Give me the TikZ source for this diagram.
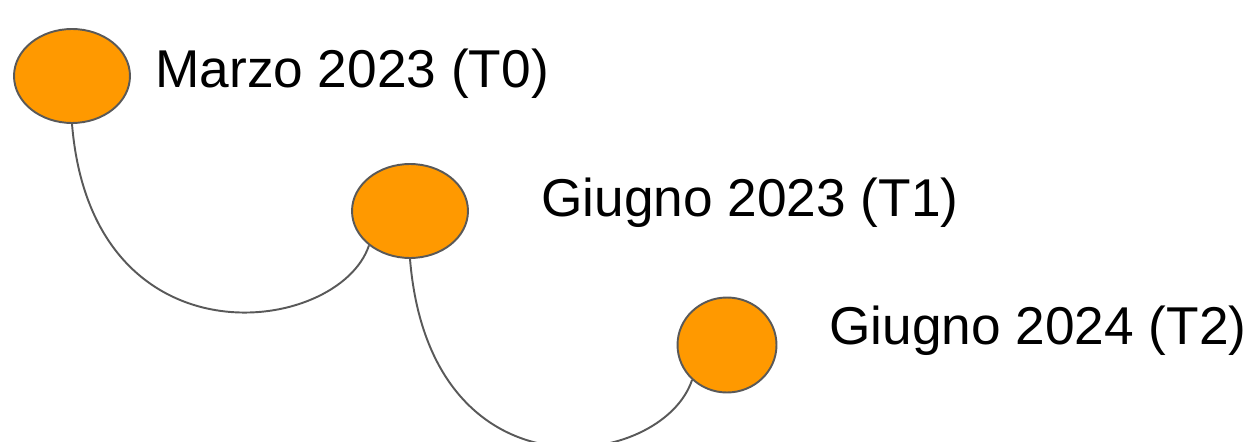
\documentclass[tikz,border=0pt]{standalone}
\usepackage{fontspec}
\setmainfont{Liberation Sans}
\usepackage{tikz}
\usetikzlibrary{shapes,positioning}
\definecolor{tlorange}{RGB}{255,153,0}
\definecolor{tlgray}{RGB}{89,89,89}
\tikzstyle{milestone} = [ellipse, draw=tlgray, fill=tlorange, line width=1.1pt, inner sep=0pt, minimum width=2.32cm, minimum height=1.88cm]
\tikzstyle{datelabel} = [anchor=base west, inner sep=0pt, font=\fontsize{30.3}{36}\selectfont]
\tikzstyle{link} = [line width=1.1pt, color=tlgray]

\begin{document}
\begin{tikzpicture}[x=0.02cm,y=-0.02cm]
\useasboundingbox (0,0) rectangle (1246,442);
\node[milestone] (t0) at (72,76) {};
\node[milestone] (t1) at (410,211) {};
\node[milestone, minimum width=1.98cm, minimum height=1.9cm] (t2) at (727,345) {};
\node[datelabel] (l0) at (155,88) {Marzo 2023 (T0)};
\node[datelabel] (l1) at (541,216) {Giugno 2023 (T1)};
\node[datelabel] (l2) at (829,344) {Giugno 2024 (T2)};
\draw[link] (t0.south) .. controls +(20,245) and +(-30,90) .. (t1.220);
\draw[link] (t1.south) .. controls +(20,245) and +(-30,90) .. (t2.225);
\end{tikzpicture}
\end{document}
